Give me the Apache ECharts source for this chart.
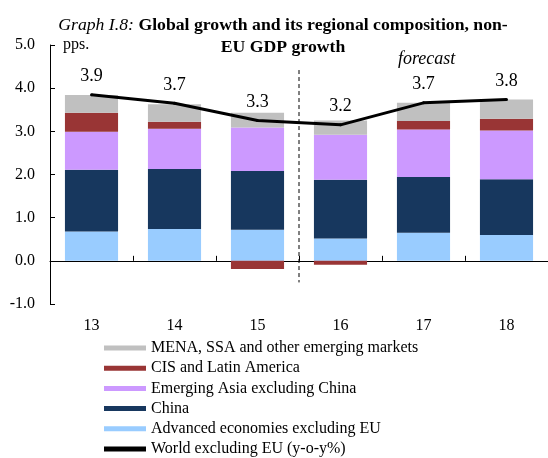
<!DOCTYPE html>
<html>
<head>
<meta charset="utf-8">
<script src="https://cdn.jsdelivr.net/npm/echarts@6/dist/echarts.min.js"></script>
<style>html,body{margin:0;padding:0;background:#fff}#c{width:548px;height:458px}</style>
</head>
<body>
<div id="c"></div>
<script>
var categories = ['13', '14', '15', '16', '17', '18'];
var advanced = [0.68, 0.74, 0.72, 0.52, 0.65, 0.60];
var china = [1.43, 1.39, 1.36, 1.36, 1.29, 1.29];
var emAsia = [0.88, 0.93, 1.01, 1.04, 1.10, 1.13];
var cisLatam = [0.44, 0.16, -0.19, -0.09, 0.20, 0.27];
var mena = [0.41, 0.41, 0.34, 0.33, 0.42, 0.45];
var world = [3.85, 3.65, 3.25, 3.15, 3.66, 3.74];
var worldLabels = ['3.9', '3.7', '3.3', '3.2', '3.7', '3.8'];
var yTicks = { min: -1, max: 5, interval: 1 };
var forecastSpan = { from: 2, to: 3, top: 4.42, bottom: -0.5 };

var FONT = '"Liberation Serif", "Times New Roman", serif';
var chart = echarts.init(document.getElementById('c'));

function bar(name, data, color) {
  return {
    name: name, type: 'bar', stack: 'total', data: data,
    barWidth: '64%', itemStyle: { color: color }, z: 2
  };
}

var option = {
  animation: false,
  textStyle: { fontFamily: FONT, color: '#000' },
  title: {
    text: '{i|Graph I.8:} {b|Global growth and its regional composition, non-}\n{b|EU GDP growth}',
    left: 278, top: 9, textAlign: 'center',
    textStyle: {
      fontFamily: FONT, align: 'center', fontWeight: 'normal',
      rich: {
        i: { fontFamily: FONT, fontStyle: 'italic', fontWeight: 'normal', fontSize: 17.7, color: '#000', lineHeight: 22 },
        b: { fontFamily: FONT, fontWeight: 'bold', fontSize: 17.7, color: '#000', lineHeight: 22 }
      }
    }
  },
  grid: { left: 50, right: 0, top: 45, bottom: 154, containLabel: false },
  legend: {
    orient: 'vertical', left: 104, top: 340, padding: 0,
    itemWidth: 42, itemHeight: 5, itemGap: 4.2,
    textStyle: { fontFamily: FONT, fontSize: 16, color: '#000', lineHeight: 16 },
    data: [
      { name: 'MENA, SSA and other emerging markets', icon: 'rect' },
      { name: 'CIS and Latin America', icon: 'rect' },
      { name: 'Emerging Asia excluding China', icon: 'rect' },
      { name: 'China', icon: 'rect' },
      { name: 'Advanced economies excluding EU', icon: 'rect' },
      { name: 'World excluding EU (y-o-y%)', icon: 'rect' }
    ]
  },
  xAxis: [
    {
      type: 'category', data: categories,
      axisLine: { onZero: true, lineStyle: { color: '#000', width: 1 } },
      axisTick: { show: true, inside: true, length: 5, lineStyle: { color: '#000' } },
      axisLabel: { show: false }
    },
    {
      type: 'category', data: categories, position: 'bottom',
      axisLine: { show: false, onZero: false }, axisTick: { show: false },
      axisLabel: { fontFamily: FONT, fontSize: 16, color: '#000', margin: 14 }
    }
  ],
  yAxis: {
    type: 'value', min: yTicks.min, max: yTicks.max, interval: yTicks.interval,
    splitLine: { show: false },
    axisLine: { show: true, lineStyle: { color: '#000', width: 1 } },
    axisTick: { show: true, inside: true, length: 5, lineStyle: { color: '#000' } },
    axisLabel: { fontFamily: FONT, fontSize: 16, color: '#000', margin: 15,
      formatter: function (v) { return v.toFixed(1); } }
  },
  series: [
    bar('Advanced economies excluding EU', advanced, '#99CCFF'),
    bar('China', china, '#17375E'),
    bar('Emerging Asia excluding China', emAsia, '#CC99FF'),
    bar('CIS and Latin America', cisLatam, '#993535'),
    bar('MENA, SSA and other emerging markets', mena, '#C0C0C0'),
    {
      name: 'World excluding EU (y-o-y%)', type: 'line', data: world,
      symbol: 'circle', symbolSize: 3, showSymbol: true, z: 5,
      lineStyle: { color: '#000', width: 3 }, itemStyle: { color: '#000' },
      labelLayout: { hideOverlap: false },
      label: {
        show: true, position: 'top', distance: 8,
        fontFamily: FONT, fontSize: 18, color: '#000',
        formatter: function (p) { return worldLabels[p.dataIndex]; }
      }
    }
  ]
};
chart.setOption(option);

var xa = chart.convertToPixel({ xAxisIndex: 0 }, forecastSpan.from);
var xb = chart.convertToPixel({ xAxisIndex: 0 }, forecastSpan.to);
var yTop = chart.convertToPixel({ yAxisIndex: 0 }, forecastSpan.top);
var yBot = chart.convertToPixel({ yAxisIndex: 0 }, forecastSpan.bottom);
var xm = (xa + xb) / 2;
chart.setOption({
  graphic: [
    { type: 'line', shape: { x1: xm, y1: yTop, x2: xm, y2: yBot },
      style: { stroke: '#000', lineWidth: 1, lineDash: [4, 3] }, z: 10 },
    { type: 'text', left: 63, top: 37,
      style: { text: 'pps.', font: '16px ' + FONT, fill: '#000' } },
    { type: 'text', left: 398, top: 50,
      style: { text: 'forecast', font: 'italic 18px ' + FONT, fill: '#000' } }
  ]
});
</script>
</body>
</html>
